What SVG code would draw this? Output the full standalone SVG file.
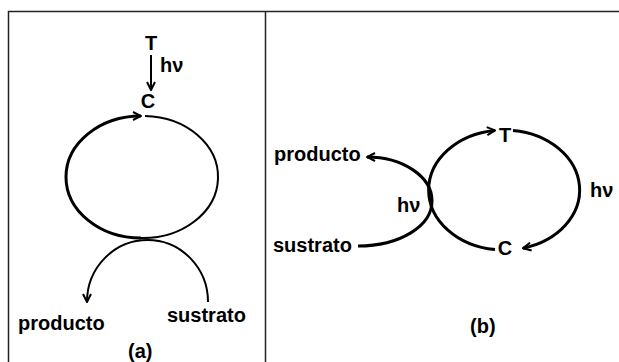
<svg xmlns="http://www.w3.org/2000/svg" width="619" height="362" viewBox="0 0 619 362">
<defs>
<marker id="arr" viewBox="0 0 10 10" refX="9" refY="5" markerWidth="10" markerHeight="10" markerUnits="userSpaceOnUse" orient="auto">
<path d="M1,1 L9,5 L1,9" fill="none" stroke="#000" stroke-width="2"/>
</marker>
<style>
text{font-family:"Liberation Sans",Arial,sans-serif;font-weight:bold;font-size:20px;fill:#000}
.c{fill:none;stroke:#000;stroke-linecap:butt}
.frame{fill:none;stroke:#222;stroke-width:1.5}
</style>
</defs>
<g id="frame">
<path class="frame" d="M8.5,362 V11.5 H619 M265.5,11.5 V362"/>
</g>
<g id="connectors">
<line class="c" x1="151" y1="55" x2="151" y2="90" stroke-width="2" marker-end="url(#arr)"/>
<path class="c" d="M145,116 A75,61 0 0 1 141,238" stroke-width="2"/>
<path class="c" d="M141,238 A75,61 0 0 1 141,116" stroke-width="3" marker-end="url(#arr)"/>
<path class="c" d="M208,302 A60.5,62 0 0 0 87,302" stroke-width="2" marker-end="url(#arr)"/>
<path class="c" d="M495,249.6 A75,60 0 0 1 495,130.4" stroke-width="3" marker-end="url(#arr)"/>
<path class="c" d="M513,130.4 A75,60 0 0 1 523,248.2" stroke-width="3" marker-end="url(#arr)"/>
<path class="c" d="M358,246 C400,246 432,226 432,201 C432,176 402,157 367,157" stroke-width="3" marker-end="url(#arr)"/>
</g>
<g id="nodeA_T"><text x="151" y="50" text-anchor="middle">T</text></g>
<g id="nodeA_hv"><text x="160" y="72">hν</text></g>
<g id="nodeA_C"><text x="148" y="108" text-anchor="middle">C</text></g>
<g id="nodeA_producto"><text x="18" y="330">producto</text></g>
<g id="nodeA_sustrato"><text x="167" y="322">sustrato</text></g>
<g id="labelA"><text x="128" y="358">(a)</text></g>
<g id="nodeB_producto"><text x="274" y="161">producto</text></g>
<g id="nodeB_sustrato"><text x="273" y="252">sustrato</text></g>
<g id="nodeB_hv1"><text x="397" y="212">hν</text></g>
<g id="nodeB_T"><text x="505" y="142" text-anchor="middle">T</text></g>
<g id="nodeB_C"><text x="505" y="255" text-anchor="middle">C</text></g>
<g id="nodeB_hv2"><text x="590" y="197">hν</text></g>
<g id="labelB"><text x="470" y="333">(b)</text></g>
</svg>
